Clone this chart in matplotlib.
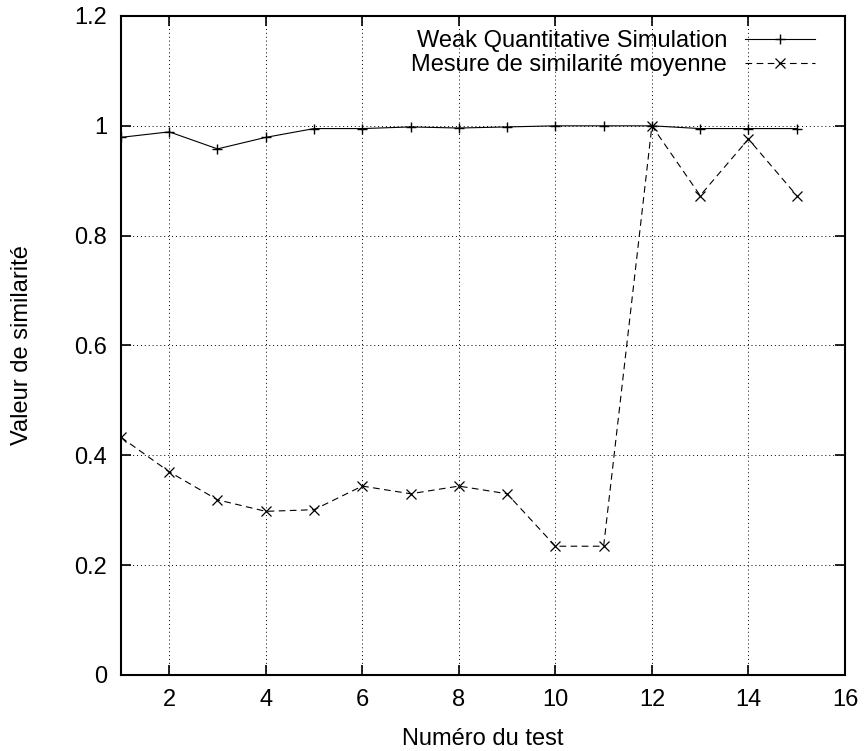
import matplotlib.pyplot as plt
import numpy as np

plt.rcParams['font.family'] = ['Liberation Sans', 'DejaVu Sans']

tests = np.arange(1, 16)
weak = [0.979, 0.989, 0.958, 0.979, 0.995, 0.995, 0.998, 0.996, 0.998,
        1.0, 1.0, 1.0, 0.995, 0.995, 0.995]
mesure = [0.433, 0.370, 0.319, 0.298, 0.301, 0.344, 0.330, 0.344, 0.330,
          0.2345, 0.2345, 1.0, 0.873, 0.976, 0.873]

fig = plt.figure(figsize=(8.64, 7.51), dpi=100)
ax = fig.add_axes([0.1400, 0.1012, 0.838, 0.8775])

ax.plot(tests, weak, c="black", lw=0.8, marker="+", ms=7, mew=1,
        label="Weak Quantitative Simulation")
ax.plot(tests, mesure, c="black", lw=0.8, ls=(0, (6, 4)), marker="x", ms=7, mew=0.9,
        label="Mesure de similarité moyenne")

ax.set_xlim(1, 16)
ax.set_ylim(0, 1.2)
ax.set_xticks(range(2, 17, 2))
ax.set_yticks([0, 0.2, 0.4, 0.6, 0.8, 1.0, 1.2])
ax.set_yticklabels(["0", "0.2", "0.4", "0.6", "0.8", "1", "1.2"])
ax.grid(True, ls=(0, (1, 3)), c="black", lw=0.7)
ax.tick_params(direction="in", length=7, width=1.2, top=True, right=True,
               labelsize=17, pad=10)
for s in ax.spines.values():
    s.set_linewidth(1.5)

ax.set_xlabel("Numéro du test", fontsize=17)
ax.set_ylabel("Valeur de similarité", fontsize=17)
ax.xaxis.set_label_coords(0.5, -0.080)
ax.yaxis.set_label_coords(-0.122, 0.5)

ax.legend(loc="upper right", bbox_to_anchor=(0.9586, 0.978), frameon=False,
          markerfirst=False, fontsize=17, handlelength=2.97, labelspacing=0.06,
          borderaxespad=0, borderpad=0, handletextpad=0.76)

plt.savefig("out.png")
